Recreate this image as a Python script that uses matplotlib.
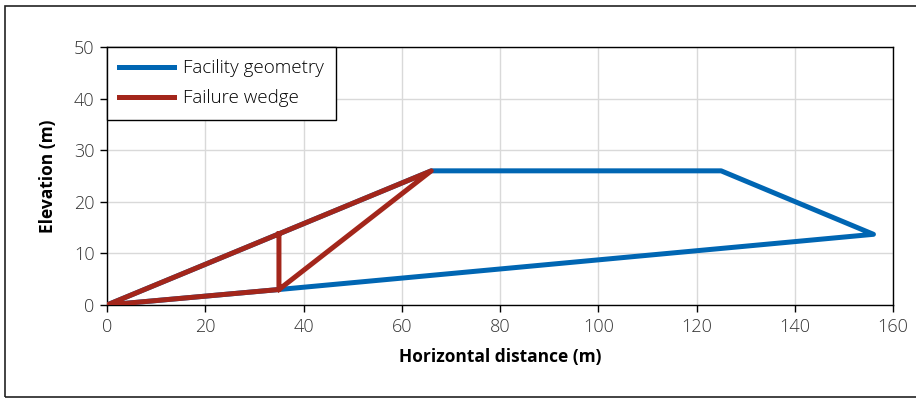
import matplotlib.pyplot as plt
from matplotlib.patches import Rectangle

# Geometry of the facility and the failure wedge (metres)
facility_x = [0, 35, 156, 125, 66, 0]
facility_y = [0, 3, 13.7, 26, 26, 0]

wedge_x = [35, 35, 0, 66, 35]
wedge_y = [13.8, 3, 0, 26, 3]

x_ticks = [0, 20, 40, 60, 80, 100, 120, 140, 160]
y_ticks = [0, 10, 20, 30, 40, 50]

plt.rcParams['font.family'] = ['Open Sans', 'DejaVu Sans']

fig = plt.figure(figsize=(9.16, 4.0), dpi=100)
ax = fig.add_axes([0.1168, 0.2375, 0.975 - 0.1168, 0.8825 - 0.2375])

ax.plot(facility_x, facility_y, color='#0066b3', lw=3.6, solid_joinstyle='round',
        label='Facility geometry', zorder=3)
ax.plot(wedge_x, wedge_y, color='#a3261b', lw=3.6, solid_joinstyle='round',
        label='Failure wedge', zorder=4)

ax.set_xlim(0, 160)
ax.set_ylim(0, 50)
ax.set_xticks(x_ticks)
ax.set_yticks(y_ticks)
ax.grid(True, color='#d9d9d9', lw=1)
ax.set_axisbelow(True)
ax.tick_params(direction='out', length=5, width=1, labelsize=13, colors='#333333', pad=4)
ax.tick_params(axis='both', color='black')
for lab in ax.get_xticklabels() + ax.get_yticklabels():
    lab.set_fontweight('light')
for s in ax.spines.values():
    s.set_color('black')
    s.set_linewidth(1)

ax.set_xlabel('Horizontal distance (m)', fontsize=12.5, fontweight='bold', labelpad=9)
ax.set_ylabel('Elevation (m)', fontsize=12.5, fontweight='bold', labelpad=12)

leg = ax.legend(loc='upper left', bbox_to_anchor=(0, 1), borderaxespad=0,
                prop={'size': 13.5, 'weight': 'light'}, fancybox=False, framealpha=1,
                edgecolor='black', handlelength=2.9, handletextpad=0.5,
                borderpad=0.65, labelspacing=0.65)
leg.get_frame().set_linewidth(1)

# outer frame round the whole figure
fig.patches.append(Rectangle((5 / 916, 3 / 400), 920 / 916, 391 / 400,
                             transform=fig.transFigure, fill=False,
                             edgecolor='#222222', lw=1.2))

fig.savefig('out.png', dpi=100)
